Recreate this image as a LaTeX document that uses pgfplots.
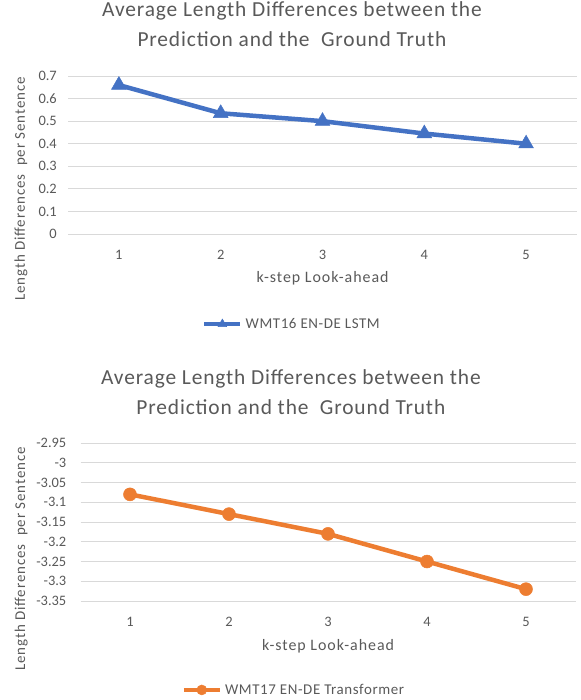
\documentclass[border=0pt]{standalone}
\usepackage{fontspec}
\setmainfont{Carlito}
\newfontfamily\titlefont[LetterSpace=4]{Carlito}
\newfontfamily\labelfont[LetterSpace=6]{Carlito}
\newfontfamily\legfont[LetterSpace=4]{Carlito}
\usepackage{pgfplots}
\pgfplotsset{compat=1.18}

\definecolor{txt}{RGB}{89,89,89}
\definecolor{gridc}{RGB}{217,217,217}
\definecolor{lblue}{RGB}{68,114,196}
\definecolor{lorange}{RGB}{237,125,49}

\pgfplotsset{
  excelstyle/.style={
    scale only axis,
    xmin=0.5, xmax=5.5,
    xtick={1,2,3,4,5},
    axis line style={draw=none},
    tick style={draw=none},
    ymajorgrids,
    major grid style={line width=1bp, gridc},
    /pgf/number format/assume math mode=true,
    ticklabel style={font=\fontsize{14.5}{14.5}\selectfont, text=txt, inner sep=0pt},
    xticklabel style={anchor=north},
    yticklabel style={anchor=east},
    xticklabel shift=16bp,
    clip=false,
    legend cell align=left,
    legend style={draw=none, fill=none, font=\legfont\fontsize{15}{15}\selectfont,
      text=txt, anchor=center, inner sep=0pt,
      /tikz/every odd column/.append style={column sep=1bp}},
    legend image code/.code={
      \draw[mark repeat=2, mark phase=2, mark size=5bp] plot coordinates {(0bp,0bp) (18bp,0bp) (36bp,0bp)};
    },
  }
}

\begin{document}
\begin{tikzpicture}
\useasboundingbox (0,0) rectangle (581bp,-700bp);

% top chart: LSTM
\begin{axis}[
  excelstyle,
  at={(68bp,-234bp)}, anchor=south west,
  width=509bp, height=158bp,
  ymin=0, ymax=0.7,
  ytick={0,0.1,0.2,0.3,0.4,0.5,0.6,0.7},
  yticklabels={0,0.1,0.2,0.3,0.4,0.5,0.6,0.7},
  yticklabel shift=11bp,
  title={Average Length Differences between the\\Prediction and the\ \ Ground Truth},
  title style={at={(axis description cs:0.44,1.29)}, anchor=center, align=center,
    font=\titlefont\fontsize{21.5}{30}\selectfont, text=txt},
  xlabel={k-step Look-ahead},
  xlabel style={at={(axis description cs:0.5,-0.278)}, anchor=center,
    font=\labelfont\fontsize{16}{16}\selectfont, text=txt},
  ylabel={Length Differences\ \ per Sentence},
  ylabel style={at={(axis description cs:-0.0923,0.285)}, anchor=center, rotate=0,
    font=\labelfont\fontsize{15}{15}\selectfont, text=txt},
  legend style={at={(axis description cs:0.44,-0.57)}},
]
\addplot[lblue, line width=4.5bp, mark=triangle*,
  mark options={solid, line width=0.5bp, fill=lblue}, mark size=8.5bp]
  coordinates {(1,0.66) (2,0.535) (3,0.50) (4,0.445) (5,0.40)};
\addlegendentry{WMT16 EN-DE LSTM}
\end{axis}

% bottom chart: Transformer
\begin{axis}[
  excelstyle,
  at={(80.5bp,-601bp)}, anchor=south west,
  width=495bp, height=158bp,
  ymin=-3.35, ymax=-2.95,
  ytick={-3.35,-3.3,-3.25,-3.2,-3.15,-3.1,-3.05,-3,-2.95},
  yticklabels={-3.35,-3.3,-3.25,-3.2,-3.15,-3.1,-3.05,-3,-2.95},
  yticklabel shift=14bp,
  title={Average Length Differences between the\\Prediction and the\ \ Ground Truth},
  title style={at={(axis description cs:0.425,1.285)}, anchor=center, align=center,
    font=\titlefont\fontsize{21.5}{30}\selectfont, text=txt},
  xlabel={k-step Look-ahead},
  xlabel style={at={(axis description cs:0.5,-0.285)}, anchor=center,
    font=\labelfont\fontsize{16}{16}\selectfont, text=txt},
  ylabel={Length Differences\ \ per Sentence},
  ylabel style={at={(axis description cs:-0.12,0.266)}, anchor=center, rotate=0,
    font=\labelfont\fontsize{15}{15}\selectfont, text=txt},
  legend style={at={(axis description cs:0.431,-0.563)}},
]
\addplot[lorange, line width=4.5bp, mark=*,
  mark options={solid, line width=0.5bp, fill=lorange}, mark size=6.5bp]
  coordinates {(1,-3.08) (2,-3.13) (3,-3.18) (4,-3.25) (5,-3.32)};
\addlegendentry{WMT17 EN-DE Transformer}
\end{axis}
\end{tikzpicture}
\end{document}
